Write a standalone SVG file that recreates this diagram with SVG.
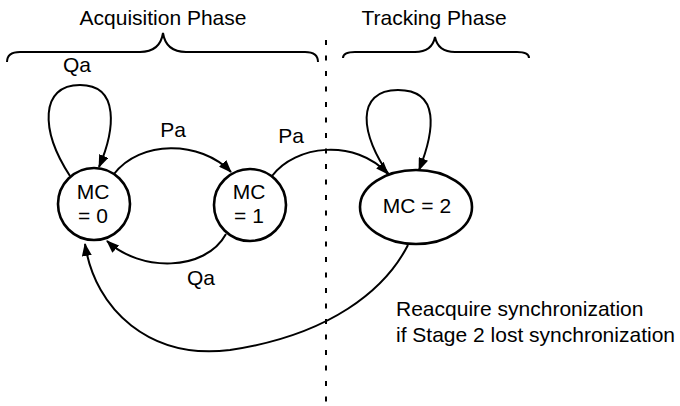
<svg xmlns="http://www.w3.org/2000/svg" width="680" height="406" viewBox="0 0 680 406">
<style>
text{font-family:"Liberation Sans",Arial,sans-serif;font-size:21px;fill:#000}
.m{text-anchor:middle}
.node{fill:#fff;stroke:#000;stroke-width:2.6}
.edge{fill:none;stroke:#000;stroke-width:2;marker-end:url(#arr)}
.brace{fill:none;stroke:#000;stroke-width:2}
</style>
<defs>
<marker id="arr" viewBox="0 0 13 10" refX="12" refY="5" markerWidth="13" markerHeight="10" markerUnits="userSpaceOnUse" orient="auto">
<path d="M0,0 L13,5 L0,10 z" fill="#000"/>
</marker>
</defs>
<rect width="680" height="406" fill="#fff"/>
<g id="phases">
<path class="brace" d="M7,62 Q7,52 20,52 L140,52 Q160,52 163,33 Q166,52 186,52 L305,52 Q318,52 318,62"/>
<path class="brace" d="M343,58 Q343,52 355,52 L415,52 Q432,52 435,37 Q438,52 455,52 L517,52 Q529,52 529,58"/>
<text class="m" x="163" y="25">Acquisition Phase</text>
<text class="m" x="434" y="25">Tracking Phase</text>
<line x1="326" y1="40" x2="326" y2="406" stroke="#000" stroke-width="2" stroke-dasharray="5 10.5"/>
</g>
<g id="connectors">
<path class="edge" d="M70,176 C40,130 40,85 80,85 C120,85 115,130 99,167"/>
<path class="edge" d="M114,174 C140,140 200,140 231,172"/>
<path class="edge" d="M226,234 C205,272 140,272 107,241"/>
<path class="edge" d="M272,176 C295,145 355,138 388,174"/>
<path class="edge" d="M390,176 C360,135 355,90 398,90 C440,90 435,130 419,170"/>
<path class="edge" d="M408,245 C385,290 330,335 230,350 C150,360 95,310 85,244"/>
<text class="m" x="77" y="72">Qa</text>
<text class="m" x="173" y="137">Pa</text>
<text class="m" x="291" y="143">Pa</text>
<text class="m" x="201" y="285">Qa</text>
<text x="396" y="316">Reacquire synchronization</text>
<text x="396" y="342">if Stage 2 lost synchronization</text>
</g>
<g id="mc0">
<circle class="node" cx="94" cy="204" r="36"/>
<text class="m" x="93" y="199">MC</text>
<text class="m" x="93" y="223">= 0</text>
</g>
<g id="mc1">
<circle class="node" cx="250" cy="205" r="36"/>
<text class="m" x="249" y="199">MC</text>
<text class="m" x="249" y="223">= 1</text>
</g>
<g id="mc2">
<ellipse class="node" cx="416" cy="207" rx="56" ry="37"/>
<text class="m" x="417" y="213">MC = 2</text>
</g>
</svg>
